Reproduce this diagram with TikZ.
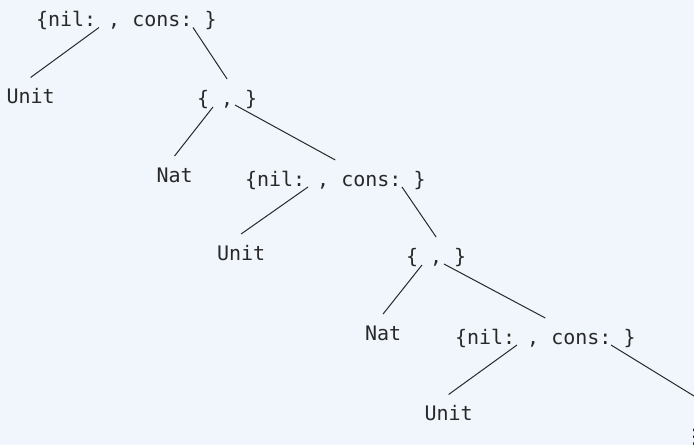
\documentclass[tikz,border=0pt]{standalone}
\usepackage{fontspec}
\newfontfamily\monofam{DejaVu Sans Mono}
\newfontfamily\symfam{DejaVu Sans}
\usetikzlibrary{calc}
\definecolor{bgc}{RGB}{240,246,252}
\definecolor{inkc}{RGB}{40,40,40}
\frenchspacing
\begin{document}
\begin{tikzpicture}[x=1pt,y=-1pt,
  lbl/.style={font=\monofam\fontsize{20}{24}\selectfont\frenchspacing, text=inkc, inner xsep=0pt, inner ysep=11pt, outer sep=0pt, text height=15pt, text depth=4pt, anchor=base west},
  edge/.style={draw=inkc, line width=1pt}]
\clip (0,0) rectangle (694,445);
\fill[bgc] (0,0) rectangle (694,445);
\node[lbl] (nilA) at (36,26.5) {\{nil: , cons: \}};
\node[lbl] (unitA) at (6.5,103.5) {Unit};
\node[lbl] (pairA) at (197,105) {\{ , \}};
\node[lbl] (natA) at (156.5,182) {Nat};
\node[lbl] (nilB) at (245,186) {\{nil: , cons: \}};
\node[lbl] (unitB) at (217,260) {Unit};
\node[lbl] (pairB) at (406,263) {\{ , \}};
\node[lbl] (natB) at (365,340) {Nat};
\node[lbl] (nilC) at (455,344) {\{nil: , cons: \}};
\node[lbl] (unitC) at (424.5,420.5) {Unit};
\node[font=\symfam\fontsize{20}{24}\selectfont, text=inkc, inner xsep=0pt, inner ysep=27pt, text height=20pt, text depth=0pt, outer sep=0pt, anchor=base] (dotsC) at (694,443) {⋮};
\draw[edge] ($(nilA.base west)+(63,1)$) -- (unitA.north);
\draw[edge] ($(nilA.base west)+(157,1)$) -- (pairA.north);
\draw[edge] ($(pairA.base west)+(16,2)$) -- (natA.north);
\draw[edge] ($(pairA.base west)+(38,0)$) -- (nilB.north);
\draw[edge] ($(nilB.base west)+(63,1)$) -- (unitB.north);
\draw[edge] ($(nilB.base west)+(157,1)$) -- (pairB.north);
\draw[edge] ($(pairB.base west)+(16,2)$) -- (natB.north);
\draw[edge] ($(pairB.base west)+(38,1)$) -- (nilC.north);
\draw[edge] ($(nilC.base west)+(62,1)$) -- (unitC.north);
\draw[edge] ($(nilC.base west)+(156,1)$) -- (dotsC.north);
\end{tikzpicture}
\end{document}
